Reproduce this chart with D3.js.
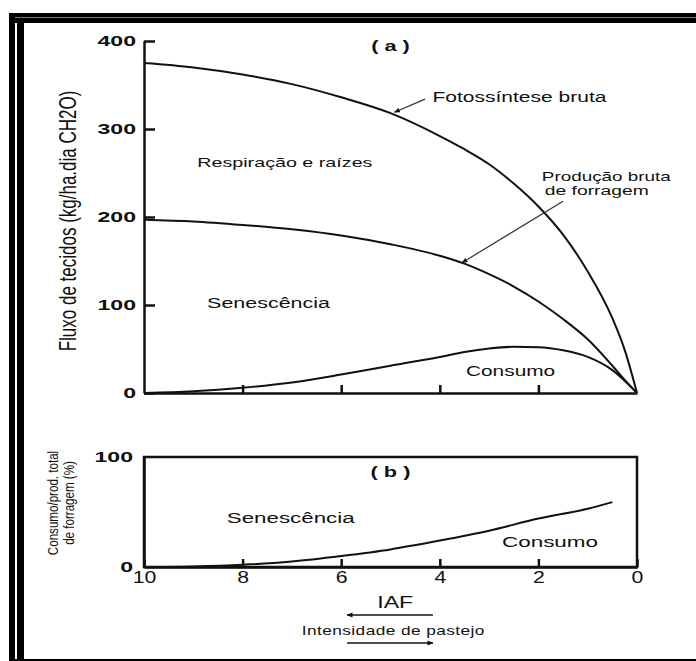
<!DOCTYPE html>
<html>
<head>
<meta charset="utf-8">
<script src="https://cdn.jsdelivr.net/npm/d3@7"></script>
<style>
  body { margin: 0; background: #fff; }
  text { font-family: "Liberation Sans", Arial, sans-serif; fill: #111; }
</style>
</head>
<body>
<div id="chart"></div>
<script>
// Data (IAF goes from 10 down to 0)
var iaf = [10, 9, 8, 7, 6, 5, 4, 3.5, 3, 2.5, 2, 1.5, 1, 0.5, 0.25, 0];
var fotossintese = [375, 370, 362, 351, 336, 318, 292, 277, 260, 238, 212, 180, 138, 85, 49, 0];
var producaoBruta = [197, 195, 191, 186, 179, 169, 156, 147, 135, 121, 104, 84, 61, 31, 15, 0];
var consumo = [0, 2, 6, 12, 21, 31, 41, 46.5, 50.5, 52.5, 52, 48.5, 41, 26, 14, 0];

// panel (b): consumo / producao total de forragem (%)
var iafB = [10, 9, 8, 7, 6, 5, 4, 3, 2, 1, 0.5];
var consumoPct = [0, 0.5, 2, 5, 10, 16, 24, 33, 44, 53, 59];

var yTicksA = [0, 100, 200, 300, 400];
var yTicksB = [0, 100];
var xTicksA = [8, 6, 4, 2];
var xTicksB = [10, 8, 6, 4, 2, 0];

var W = 696, H = 661;
var SX = 1.45;   // the scanned figure is stretched horizontally

var svg = d3.select("#chart").append("svg")
  .attr("width", W).attr("height", H);

svg.append("rect").attr("width", W).attr("height", H).attr("fill", "#fff");

// frame round the scan
var frame = svg.append("g");
frame.append("rect").attr("x", 9).attr("y", 13).attr("width", 6).attr("height", H - 13).attr("fill", "#000");
frame.append("rect").attr("x", 17).attr("y", 13).attr("width", 7).attr("height", H - 13).attr("fill", "#000");
frame.append("rect").attr("x", 9).attr("y", 13).attr("width", W - 9).attr("height", 10).attr("fill", "#000");
frame.append("line").attr("x1", 15).attr("x2", W).attr("y1", 17.5).attr("y2", 17.5)
  .attr("stroke", "#777").attr("stroke-width", 1);
frame.append("rect").attr("x", 9).attr("y", H - 2).attr("width", W - 9).attr("height", 2).attr("fill", "#000");

var defs = svg.append("defs");
defs.append("marker")
  .attr("id", "head")
  .attr("viewBox", "0 0 10 10")
  .attr("refX", 9).attr("refY", 5)
  .attr("markerWidth", 6).attr("markerHeight", 6)
  .attr("markerUnits", "userSpaceOnUse")
  .attr("orient", "auto")
  .append("path").attr("d", "M0,1 L10,5 L0,9 Z").attr("fill", "#111");

// scales
var x = d3.scaleLinear().domain([10, 0]).range([144, 637]);
var yA = d3.scaleLinear().domain([0, 400]).range([393, 41]);
var yB = d3.scaleLinear().domain([0, 100]).range([567, 457]);

function label(g, px, py, s, size, opt) {
  opt = opt || {};
  var sx = opt.sx || SX;
  return g.append("text")
    .attr("transform", "translate(" + px + "," + py + ") scale(" + sx + ",1)" + (opt.rotate ? " rotate(-90)" : ""))
    .attr("dy", opt.dy == null ? "0.35em" : opt.dy)
    .attr("text-anchor", opt.anchor || "start")
    .style("font-size", size + "px")
    .style("font-weight", opt.weight || "normal")
    .style("letter-spacing", (opt.ls || 0) + "px")
    .text(s);
}

function styleAxis(g) {
  g.selectAll("path, line").attr("stroke", "#111").attr("stroke-width", 2.5);
}

// ---------- panel (a) ----------
var pa = svg.append("g");

var axA = pa.append("g").attr("transform", "translate(" + x(10) + ",0)")
  .call(d3.axisLeft(yA).tickValues(yTicksA).tickSizeInner(-11).tickSizeOuter(0).tickPadding(8));
styleAxis(axA);
axA.selectAll("text")
  .attr("x", -8 / 1.65)
  .attr("transform", "scale(1.65,1)")
  .style("font-size", "14px").style("font-weight", "bold");

var axXA = pa.append("g").attr("transform", "translate(0," + yA(0) + ")")
  .call(d3.axisBottom(x).tickValues(xTicksA).tickSizeInner(-8).tickSizeOuter(0).tickFormat(""));
styleAxis(axXA);

var lineA = function(vals) {
  return d3.line()
    .x(function(d, i) { return x(iaf[i]); })
    .y(function(d) { return yA(d); })
    .curve(d3.curveMonotoneX)(vals);
};

pa.selectAll(".curve")
  .data([fotossintese, producaoBruta, consumo])
  .enter().append("path")
  .attr("class", "curve")
  .attr("d", lineA)
  .attr("fill", "none")
  .attr("stroke", "#111")
  .attr("stroke-width", 2);

// annotations (data coordinates)
label(pa, x(5.0), yA(395), "( a )", 15, { anchor: "middle", weight: "bold" });
label(pa, x(4.15), yA(336), "Fotossíntese bruta", 14.5);
label(pa, x(8.92), yA(262), "Respiração e raízes", 13.6);
label(pa, x(1.93), yA(246), "Produção bruta", 13);
label(pa, x(1.87), yA(230), "de forragem", 13.3);
label(pa, x(8.72), yA(103), "Senescência", 14.8);
label(pa, x(3.47), yA(25), "Consumo", 14.4);

var arrowsA = [
  { from: [4.3, 334], to: [4.92, 319] },
  { from: [1.5, 218], to: [3.55, 148] }
];
pa.selectAll(".ann")
  .data(arrowsA)
  .enter().append("line")
  .attr("class", "ann")
  .attr("x1", function(d) { return x(d.from[0]); })
  .attr("y1", function(d) { return yA(d.from[1]); })
  .attr("x2", function(d) { return x(d.to[0]); })
  .attr("y2", function(d) { return yA(d.to[1]); })
  .attr("stroke", "#333").attr("stroke-width", 1.2)
  .attr("marker-end", "url(#head)");

label(pa, 76, (yA(0) + yA(400)) / 2 + 4, "Fluxo de tecidos (kg/ha.dia CH2O)", 17,
  { anchor: "middle", rotate: true, dy: 0 });

// ---------- panel (b) ----------
var pb = svg.append("g");

pb.append("rect")
  .attr("x", x(10)).attr("y", yB(100))
  .attr("width", x(0) - x(10)).attr("height", yB(0) - yB(100))
  .attr("fill", "none").attr("stroke", "#111").attr("stroke-width", 2.5);

var axB = pb.append("g").attr("transform", "translate(" + x(10) + ",0)")
  .call(d3.axisLeft(yB).tickValues(yTicksB).tickSize(0).tickPadding(11));
styleAxis(axB);
axB.selectAll("text")
  .attr("x", -11 / 1.65)
  .attr("transform", "scale(1.65,1)")
  .style("font-size", "14px").style("font-weight", "bold");

var axXB = pb.append("g").attr("transform", "translate(0," + yB(0) + ")")
  .call(d3.axisBottom(x).tickValues(xTicksB).tickSizeInner(-8).tickSizeOuter(0).tickPadding(4));
styleAxis(axXB);
axXB.selectAll("text")
  .attr("transform", "scale(1.25,1)")
  .style("font-size", "17px");

pb.append("path")
  .datum(consumoPct)
  .attr("d", d3.line()
    .x(function(d, i) { return x(iafB[i]); })
    .y(function(d) { return yB(d); })
    .curve(d3.curveMonotoneX))
  .attr("fill", "none").attr("stroke", "#111").attr("stroke-width", 2);

label(pb, x(5.0), yB(86.5), "( b )", 15, { anchor: "middle", weight: "bold" });
label(pb, x(8.32), yB(44.5), "Senescência", 15.4);
label(pb, x(2.74), yB(22.7), "Consumo", 15.5);

label(pb, 58, 503, "Consumo/prod. total", 11.6, { anchor: "middle", rotate: true, dy: 0, sx: 1.2 });
label(pb, 74, 503, "de forragem (%)", 11.6, { anchor: "middle", rotate: true, dy: 0, sx: 1.2 });

// IAF and grazing intensity arrows below the axis
label(pb, x(5.27), 602, "IAF", 16);
pb.append("line")
  .attr("x1", x(4.14)).attr("x2", x(5.88)).attr("y1", 615).attr("y2", 615)
  .attr("stroke", "#111").attr("stroke-width", 1.5).attr("marker-end", "url(#head)");
label(pb, x(6.8), 631, "Intensidade de pastejo", 11.9, { ls: 0.3 });
pb.append("line")
  .attr("x1", x(5.88)).attr("x2", x(4.14)).attr("y1", 643).attr("y2", 643)
  .attr("stroke", "#111").attr("stroke-width", 1.5).attr("marker-end", "url(#head)");
</script>
</body>
</html>
